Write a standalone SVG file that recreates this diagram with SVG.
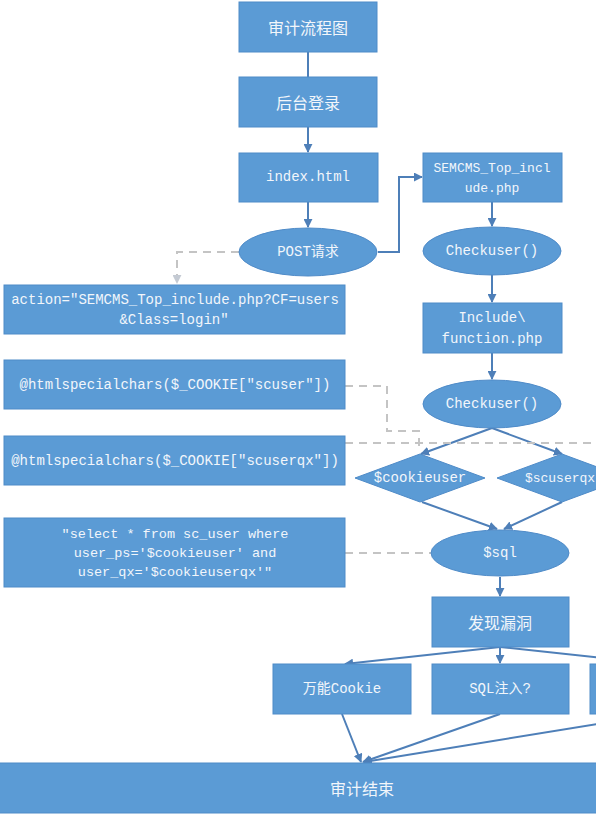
<svg xmlns="http://www.w3.org/2000/svg" width="596" height="815" viewBox="0 0 596 815">
<defs>
<style>
.box{fill:#5b9bd5;stroke:#4f8bc8;stroke-width:1}
.t{font-family:"Liberation Mono","Noto Sans CJK SC",monospace;font-size:14px;fill:#f2f6fb;text-anchor:middle;dominant-baseline:central}
.cn{font-family:"Noto Sans CJK SC",sans-serif;font-size:16px;fill:#f2f6fb;text-anchor:middle;dominant-baseline:central}
.c{fill:none;stroke:#4e7fb8;stroke-width:2}
.d{fill:none;stroke:#c4c4c4;stroke-width:2;stroke-dasharray:8 6}
</style>
<marker id="a" viewBox="0 0 10 10" refX="9" refY="5" markerWidth="4.5" markerHeight="4.5" orient="auto" markerUnits="strokeWidth">
<path d="M0,0 L10,5 L0,10 z" fill="#4e7fb8"/>
</marker>
<marker id="ag" viewBox="0 0 10 10" refX="9" refY="5" markerWidth="4.5" markerHeight="4.5" orient="auto" markerUnits="strokeWidth">
<path d="M0,0 L10,5 L0,10 z" fill="#c4cad3"/>
</marker>
</defs>
<rect width="596" height="815" fill="#ffffff"/>
<g id="connectors">
<line class="c" x1="308" y1="52" x2="308" y2="77"/>
<line class="c" x1="308" y1="127" x2="308" y2="152" marker-end="url(#a)"/>
<line class="c" x1="308" y1="202" x2="308" y2="227" marker-end="url(#a)"/>
<polyline class="c" points="378,252 399,252 399,177 422,177" marker-end="url(#a)"/>
<line class="c" x1="492" y1="202" x2="492" y2="226" marker-end="url(#a)"/>
<line class="c" x1="492" y1="275" x2="492" y2="302" marker-end="url(#a)"/>
<line class="c" x1="492" y1="353" x2="492" y2="379" marker-end="url(#a)"/>
<line class="c" x1="492" y1="428" x2="421" y2="454" marker-end="url(#a)"/>
<line class="c" x1="492" y1="428" x2="562" y2="454" marker-end="url(#a)"/>
<line class="c" x1="422" y1="502" x2="497" y2="529" marker-end="url(#a)"/>
<line class="c" x1="562" y1="502" x2="504" y2="529" marker-end="url(#a)"/>
<line class="c" x1="500" y1="577" x2="500" y2="596" marker-end="url(#a)"/>
<line class="c" x1="500" y1="647" x2="345" y2="664" marker-end="url(#a)"/>
<line class="c" x1="500" y1="647" x2="500" y2="663" marker-end="url(#a)"/>
<line class="c" x1="500" y1="647" x2="659" y2="664" marker-end="url(#a)"/>
<line class="c" x1="342" y1="714" x2="361" y2="762" marker-end="url(#a)"/>
<line class="c" x1="500" y1="714" x2="363" y2="762" marker-end="url(#a)"/>
<line class="c" x1="659" y1="714" x2="364" y2="762" marker-end="url(#a)"/>
<polyline class="d" points="239,252 177,252 177,283" marker-end="url(#ag)"/>
<polyline class="d" points="345,386 387,386 387,431 419,431 419,450"/>
<line class="d" x1="345" y1="443" x2="596" y2="443"/>
<line class="d" x1="345" y1="553" x2="431" y2="553"/>
</g>
<g id="n_title"><rect class="box" x="239" y="2" width="138" height="50"/><text class="cn" x="308" y="27">审计流程图</text></g>
<g id="n_login"><rect class="box" x="239" y="77" width="138" height="50"/><text class="cn" x="308" y="102">后台登录</text></g>
<g id="n_index"><rect class="box" x="239" y="153" width="139" height="49"/><text class="t" x="308" y="177">index.html</text></g>
<g id="n_post"><ellipse class="box" cx="308" cy="252" rx="69" ry="24"/><text class="t" x="308" y="252">POST请求</text></g>
<g id="n_semcms"><rect class="box" x="423" y="153" width="139" height="49"/><text class="t" x="492" y="168" style="font-size:13px">SEMCMS_Top_incl</text><text class="t" x="492" y="188" style="font-size:13px">ude.php</text></g>
<g id="n_check1"><ellipse class="box" cx="492" cy="251" rx="69" ry="24"/><text class="t" x="492" y="251">Checkuser()</text></g>
<g id="n_include"><rect class="box" x="423" y="303" width="139" height="50"/><text class="t" x="492" y="318">Include\</text><text class="t" x="492" y="339">function.php</text></g>
<g id="n_check2"><ellipse class="box" cx="492" cy="404" rx="69" ry="24"/><text class="t" x="492" y="404">Checkuser()</text></g>
<g id="n_cookieuser"><polygon class="box" points="355,478 420,454 485,478 420,502"/><text class="t" x="420" y="478">$cookieuser</text></g>
<g id="n_scuserqx"><polygon class="box" points="497,478 562,454 627,478 562,502"/><text class="t" x="560" y="478" style="font-size:13px">$scuserqx</text></g>
<g id="n_sql"><ellipse class="box" cx="500" cy="553" rx="69" ry="23"/><text class="t" x="500" y="553">$sql</text></g>
<g id="n_vuln"><rect class="box" x="432" y="597" width="137" height="50"/><text class="cn" x="500" y="622">发现漏洞</text></g>
<g id="n_cookie"><rect class="box" x="273" y="664" width="138" height="50"/><text class="t" x="342" y="689">万能Cookie</text></g>
<g id="n_sqli"><rect class="box" x="432" y="664" width="137" height="50"/><text class="t" x="500" y="689">SQL注入?</text></g>
<g id="n_third"><rect class="box" x="590" y="664" width="138" height="50"/></g>
<g id="n_end"><rect class="box" x="-2" y="763" width="600" height="50"/><text class="cn" x="362" y="788">审计结束</text></g>
<g id="n_action"><rect class="box" x="4" y="285" width="341" height="49"/><text class="t" x="175" y="300">action="SEMCMS_Top_include.php?CF=users</text><text class="t" x="174" y="320">&amp;Class=login"</text></g>
<g id="n_scuser"><rect class="box" x="4" y="360" width="341" height="49"/><text class="t" x="175" y="385">@htmlspecialchars($_COOKIE["scuser"])</text></g>
<g id="n_scuserqx_src"><rect class="box" x="4" y="436" width="341" height="49"/><text class="t" x="175" y="461">@htmlspecialchars($_COOKIE["scuserqx"])</text></g>
<g id="n_select"><rect class="box" x="4" y="518" width="341" height="69"/><text class="t" x="175" y="534" style="font-size:13.5px">"select * from sc_user where</text><text class="t" x="175" y="553" style="font-size:13.5px">user_ps='$cookieuser' and</text><text class="t" x="175" y="572" style="font-size:13.5px">user_qx='$cookieuserqx'"</text></g>
</svg>
